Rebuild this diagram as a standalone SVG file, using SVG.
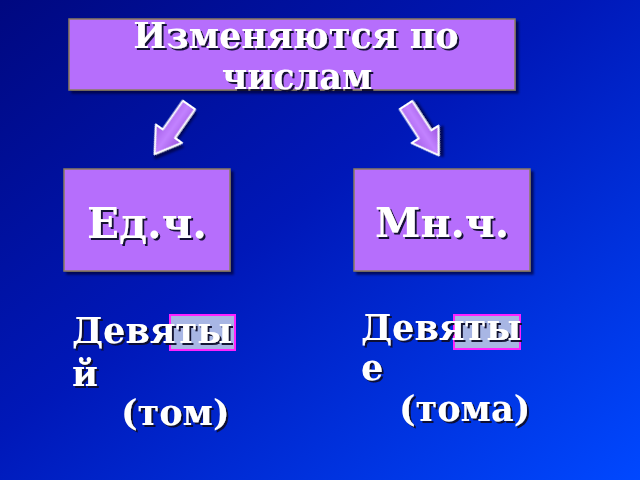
<svg xmlns="http://www.w3.org/2000/svg" width="640" height="480" viewBox="0 0 640 480">
  <defs>
    <linearGradient id="bg" x1="0" y1="0" x2="1" y2="1">
      <stop offset="0" stop-color="#000880"/>
      <stop offset="0.45" stop-color="#0018b8"/>
      <stop offset="1" stop-color="#0048ff"/>
    </linearGradient>
    <linearGradient id="arrowFill" x1="0" y1="0" x2="1" y2="0">
      <stop offset="0" stop-color="#a25ae6"/>
      <stop offset="0.5" stop-color="#c282ff"/>
      <stop offset="1" stop-color="#9a52de"/>
    </linearGradient>
    <filter id="txtShadow" x="-10%" y="-20%" width="130%" height="150%">
      <feDropShadow dx="2" dy="2" stdDeviation="0.4" flood-color="#10102a" flood-opacity="0.95"/>
    </filter>
    <filter id="boxShadow" x="-10%" y="-10%" width="130%" height="130%">
      <feDropShadow dx="3" dy="3" stdDeviation="1" flood-color="#000030" flood-opacity="0.7"/>
    </filter>
    <path id="arrowShape" d="M-7.5,0 L7.5,0 L7.5,35 L16,35 L0,60 L-16,35 L-7.5,35 Z"/>
  </defs>
  <style>
    .box { fill: #b66efc; stroke: #8a7c5e; stroke-width: 1.5; filter: url(#boxShadow); }
    .txt { font-family: "DejaVu Serif", "Liberation Serif", serif; font-weight: bold; fill: #ffffff; filter: url(#txtShadow); }
    .hl { fill: #a8b6e4; stroke: #ff22ff; stroke-width: 2; }
    .arrow { fill: url(#arrowFill); stroke: #ffffff; stroke-width: 2; stroke-linejoin: round; filter: url(#boxShadow); }
  </style>
  <rect width="640" height="480" fill="url(#bg)"/>

  <g id="title">
    <rect class="box" x="69" y="19" width="446" height="71"/>
    <text class="txt" font-size="35" text-anchor="middle" x="296" y="48">Изменяются по</text>
    <text class="txt" font-size="35" text-anchor="middle" x="297" y="89">числам</text>
  </g>

  <g id="connectors">
    <use href="#arrowShape" class="arrow" transform="translate(189,105) rotate(35)"/>
    <use href="#arrowShape" class="arrow" transform="translate(406,105) rotate(-33)"/>
  </g>

  <g id="singular">
    <rect class="box" x="64" y="169" width="166" height="102"/>
    <text class="txt" font-size="42" text-anchor="middle" x="147" y="238">Ед.ч.</text>
  </g>

  <g id="plural">
    <rect class="box" x="354" y="169" width="176" height="102"/>
    <text class="txt" font-size="41" text-anchor="middle" x="442" y="237">Мн.ч.</text>
  </g>

  <g id="example-singular">
    <rect class="hl" x="170" y="315" width="65" height="35"/>
    <text class="txt" font-size="35" x="72" y="343">Девяты</text>
    <text class="txt" font-size="35" x="72" y="386">й</text>
    <text class="txt" font-size="35" x="121" y="425">(том)</text>
  </g>

  <g id="example-plural">
    <rect class="hl" x="454" y="315" width="66" height="34"/>
    <text class="txt" font-size="35" x="361" y="340">Девяты</text>
    <text class="txt" font-size="35" x="361" y="380">е</text>
    <text class="txt" font-size="35" x="399" y="421">(тома)</text>
  </g>
</svg>
